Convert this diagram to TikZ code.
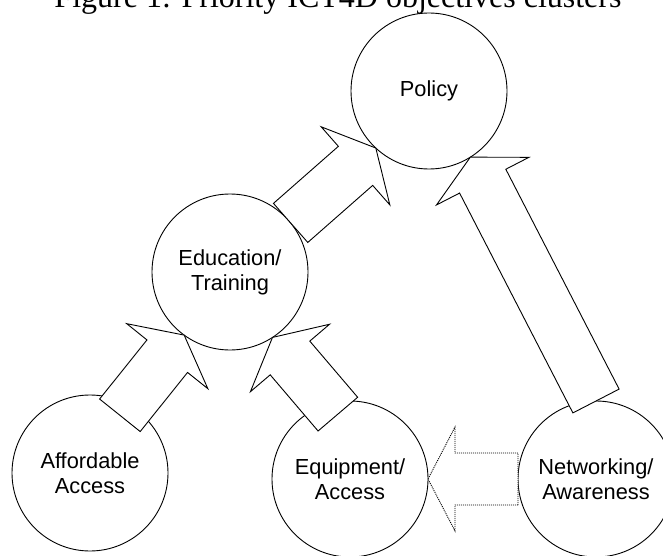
\documentclass[tikz,border=0pt]{standalone}
\usepackage{fontspec}
\setmainfont{Liberation Serif}
\newfontfamily\labelfont{Liberation Sans}
\usetikzlibrary{calc}
\tikzset{
  cluster/.style={circle, draw, line width=0.9pt, minimum size=156pt, inner sep=0pt,
    outer sep=0pt, align=center, font=\labelfont\fontsize{21.8}{25}\selectfont},
  blockarrow/.style={draw, fill=white, line width=0.9pt, line join=miter},
  dottedarrow/.style={blockarrow, dash pattern=on 1pt off 1pt},
}
% block arrow from tail point #2 to tip point #3 (shaft 52pt, head 104pt wide, 27pt long)
\newcommand\blockarr[3][]{%
  \coordinate (ba-t) at (#2);
  \coordinate (ba-p) at (#3);
  \coordinate (ba-h) at ($(ba-p)!27pt!(ba-t)$);
  \draw[blockarrow,#1] ($(ba-t)!26pt!90:(ba-p)$) -- ($(ba-h)!26pt!90:(ba-p)$)
    -- ($(ba-h)!52pt!90:(ba-p)$) -- (ba-p) -- ($(ba-h)!52pt!-90:(ba-p)$)
    -- ($(ba-h)!26pt!-90:(ba-p)$) -- ($(ba-t)!26pt!-90:(ba-p)$) -- cycle;
}
\begin{document}
\begin{tikzpicture}[x=1pt,y=1pt]
  \clip (0,0) rectangle (663,-556);
  \fill[white] (0,0) rectangle (663,-556);
  \node[anchor=base, font=\fontsize{32}{38}\selectfont] (title) at (338,-7.5)
    {Figure 1: Priority ICT4D objectives clusters};
  \node[cluster] (pol) at (429,-91) {Policy};
  \node[cluster] (edu) at (230,-272) {Education/\\Training};
  \node[cluster] (aff) at (90,-473) {Affordable\\Access};
  \node[cluster] (equ) at (350,-479) {Equipment/\\Access};
  \node[cluster] (net) at (596,-479) {Networking/\\Awareness};
  \coordinate (aff-out) at ($(aff.center)+(62.6:65pt)$);
  \coordinate (equ-out) at ($(equ.center)+(100.6:66pt)$);
  \blockarr{edu.39.6}{pol.227.6}
  \blockarr{aff-out}{edu.234.5}
  \blockarr{equ-out}{edu.303.8}
  \blockarr{net.north}{pol.302}
  \blockarr[dottedarrow]{net.west}{equ.east}
\end{tikzpicture}
\end{document}
